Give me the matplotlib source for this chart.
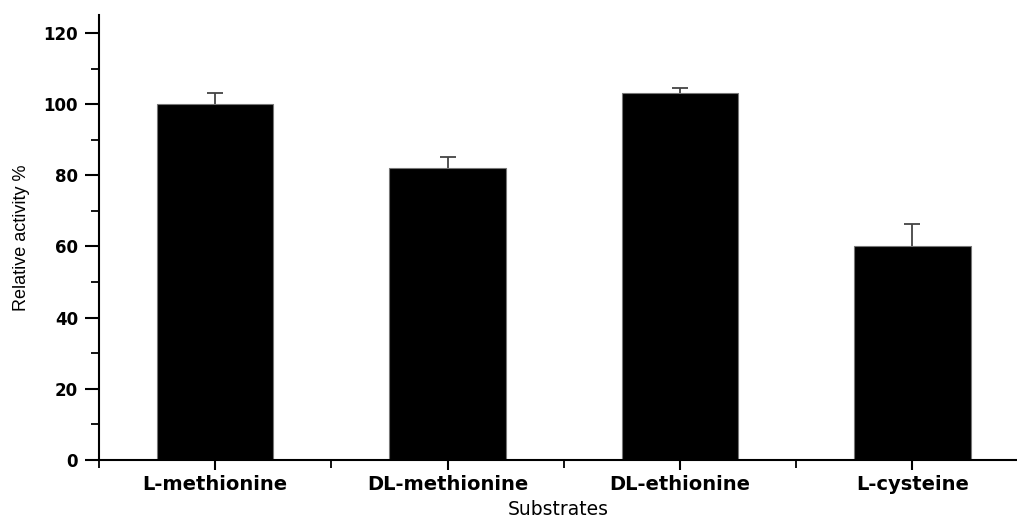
import numpy as np
import matplotlib.pyplot as plt
from matplotlib.ticker import MultipleLocator, FixedLocator

plt.rcParams['font.family'] = ['DejaVu Sans']

# relative activity per substrate (upper error only)
substrates = ["L-methionine", "DL-methionine", "DL-ethionine", "L-cysteine"]
activity = [100, 82, 103, 60]
err_up = [3.2, 3.1, 1.6, 6.3]

fig = plt.figure(figsize=(10.17, 5.19), dpi=100)
ax = fig.add_axes([0.0973, 0.1137, 0.9027, 0.857])

x = np.arange(len(substrates))
ax.bar(x, activity, width=0.5, color="black", edgecolor="#777777", linewidth=0.8, zorder=2)
eb = ax.errorbar(x, activity, yerr=[np.zeros(len(x)), err_up], fmt="none",
                 ecolor="#444444", elinewidth=1.3, capsize=6, capthick=1.3, zorder=1)
# drop the cap at the bar top, keep only the upper one
eb[1][0].set_visible(False)

ax.set_xlim(-0.5, 3.45)
ax.set_ylim(0, 125)

ax.spines["top"].set_visible(False)
ax.spines["right"].set_visible(False)
for s in ("left", "bottom"):
    ax.spines[s].set_linewidth(1.5)

ax.set_xticks(x)
ax.set_xticklabels(substrates, fontsize=14, fontweight="bold")
ax.xaxis.set_minor_locator(FixedLocator([-0.5, 0.5, 1.5, 2.5]))
ax.set_yticks(np.arange(0, 121, 20))
ax.yaxis.set_minor_locator(MultipleLocator(10))
for lab in ax.get_yticklabels():
    lab.set_fontweight("bold")
    lab.set_fontsize(12)

ax.tick_params(axis="y", which="major", length=10, width=1.5, pad=5)
ax.tick_params(axis="y", which="minor", length=6, width=1.3)
ax.tick_params(axis="x", which="major", length=7, width=1.5, pad=4)
ax.tick_params(axis="x", which="minor", length=6, width=1.3)

ax.set_xlabel("Substrates", fontsize=13.5, labelpad=4)
ax.set_ylabel("Relative activity %", fontsize=13, family="Liberation Sans", labelpad=10)

fig.savefig("out.png", dpi=100)
